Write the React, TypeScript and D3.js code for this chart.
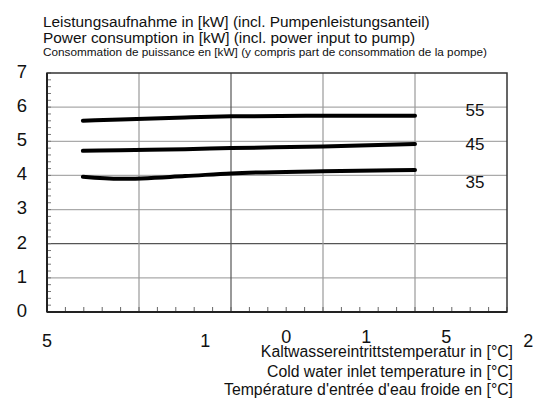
import React from "react";
import * as d3 from "d3";

const W = 534;
const H = 404;

const yTicks = [0, 1, 2, 3, 4, 5, 6, 7];
const xGrid = [0, 1, 2, 3, 4, 5];
const xTickLabels = ["5", "1", "0", "1", "5", "2"];
const xTickLabelPos = [0, 1.72, 2.6, 3.47, 4.34, 5.23];
const xTickLabelRaised = [false, false, true, true, true, false];

const curveX = [0.39, 0.8, 1.5, 2, 3, 4];
const series55 = [5.6, 5.64, 5.7, 5.73, 5.75, 5.75];
const series45 = [4.72, 4.74, 4.77, 4.8, 4.85, 4.92];
const series35 = [3.96, 3.9, 3.98, 4.06, 4.12, 4.16];
const seriesLabels = ["55", "45", "35"];
const seriesLabelY = [5.88, 4.87, 3.76];

const titleLines = [
  "Leistungsaufnahme in [kW] (incl. Pumpenleistungsanteil)",
  "Power consumption in [kW] (incl. power input to pump)",
];
const titleFr = "Consommation de puissance en [kW] (y compris part de consommation de la pompe)";
const xTitleLines = [
  "Kaltwassereintrittstemperatur in [°C]",
  "Cold water inlet temperature in [°C]",
  "Température d'entrée d'eau froide en [°C]",
];

export default function App() {
  const left = 47, right = 507, top = 73, bottom = 312;
  const x = d3.scaleLinear().domain([0, 5]).range([left, right]);
  const y = d3.scaleLinear().domain([0, 7]).range([bottom, top]);
  const line = d3
    .line<number>()
    .x((_, i) => x(curveX[i]))
    .y((d) => y(d))
    .curve(d3.curveMonotoneX);
  const series = [series55, series45, series35];
  const font = "'Liberation Sans', Arial, sans-serif";
  const xMinor = d3.range(0, 5.001, 0.2);
  const yMinor = d3.range(0, 7.001, 0.2);
  const xTitleY = [357, 377, 395];

  return (
    <svg width={W} height={H} style={{ position: "absolute", left: 0, top: 0, background: "#fff" }} fontFamily={font}>
      <rect x={0} y={0} width={W} height={H} fill="#fff" />
      {titleLines.map((t, i) => (
        <text key={t} x={43} y={27 + i * 15.5} fontSize={15.4} fill="#111">
          {t}
        </text>
      ))}
      <text x={43} y={56} fontSize={11} fill="#111" textLength={444} lengthAdjust="spacingAndGlyphs">
        {titleFr}
      </text>
      {yTicks.slice(1, -1).map((v) => (
        <line key={"hy" + v} x1={left} x2={right} y1={y(v)} y2={y(v)} stroke={v === 2 ? "#555" : "#aaa"} strokeWidth={1.2} />
      ))}
      {xGrid.slice(1, -1).map((v) => (
        <line key={"gx" + v} x1={x(v)} x2={x(v)} y1={top} y2={bottom} stroke={v === 2 ? "#555" : "#999"} strokeWidth={1.2} />
      ))}
      {xMinor.map((v, i) => (
        <line key={"mx" + i} x1={x(v)} x2={x(v)} y1={bottom} y2={bottom - 5} stroke="#666" strokeWidth={1} />
      ))}
      {yMinor.map((v, i) => (
        <line key={"my" + i} x1={left} x2={left + 4} y1={y(v)} y2={y(v)} stroke="#777" strokeWidth={1} />
      ))}
      <rect x={left} y={top} width={right - left} height={bottom - top} fill="none" stroke="#333" strokeWidth={1.5} />
      <line x1={left} x2={right} y1={bottom} y2={bottom} stroke="#222" strokeWidth={2} />
      <line x1={left} x2={left} y1={top} y2={bottom} stroke="#222" strokeWidth={2} />
      {series.map((s, i) => (
        <path key={i} d={line(s) || ""} fill="none" stroke="#000" strokeWidth={4} strokeLinecap="round" />
      ))}
      {seriesLabels.map((l, i) => (
        <text key={l} x={475} y={y(seriesLabelY[i])} fontSize={17} textAnchor="middle" dominantBaseline="middle" fill="#111">
          {l}
        </text>
      ))}
      {yTicks.map((v) => (
        <text key={"yl" + v} x={22} y={y(v)} fontSize={18.5} textAnchor="middle" dominantBaseline="middle" fill="#111">
          {v}
        </text>
      ))}
      {xTickLabels.map((l, i) => (
        <text key={"xl" + i} x={x(xTickLabelPos[i])} y={xTickLabelRaised[i] ? 343 : 347} fontSize={18} textAnchor="middle" fill="#111">
          {l}
        </text>
      ))}
      {xTitleLines.map((t, i) => (
        <text key={t} x={513} y={xTitleY[i]} fontSize={15.8} textAnchor="end" fill="#111">
          {t}
        </text>
      ))}
    </svg>
  );
}
